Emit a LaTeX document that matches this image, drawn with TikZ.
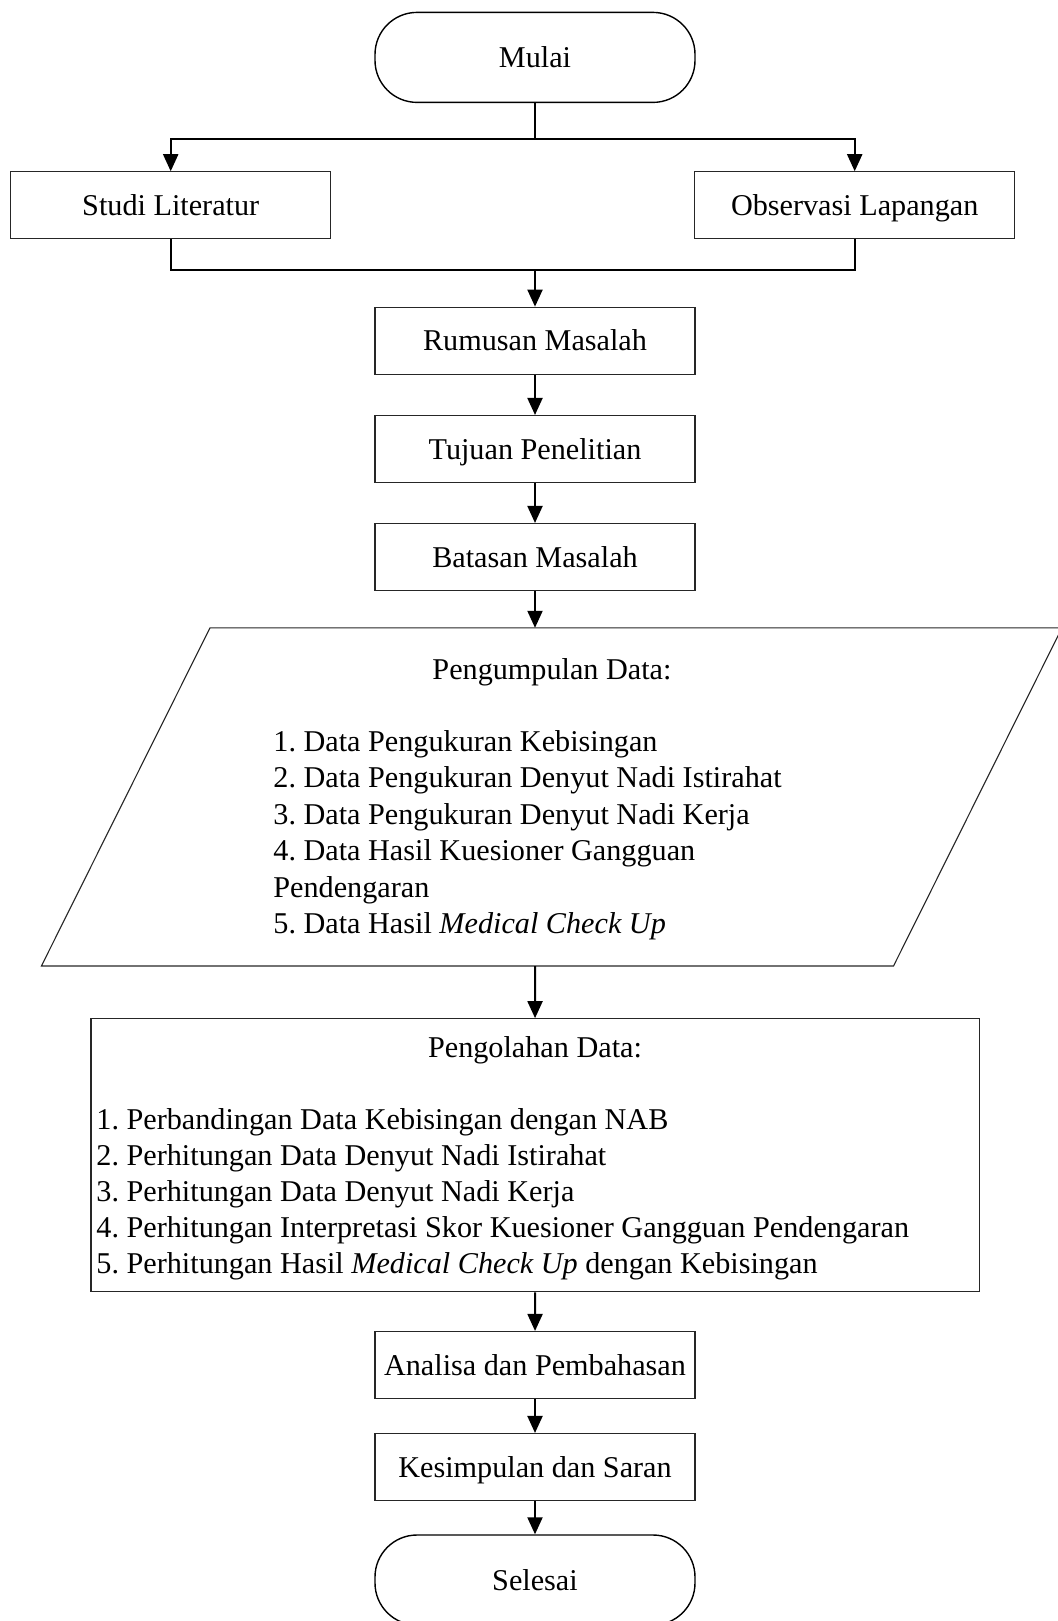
\documentclass[tikz,border=0pt]{standalone}
\usepackage{fontspec}
\setmainfont{Liberation Serif}
\usetikzlibrary{arrows.meta,calc}
\begin{document}
\frenchspacing
\begin{tikzpicture}[x=0.5pt,y=-0.5pt,
  every node/.style={font=\fontsize{15.1}{18.2}\selectfont},
  procbox/.style={draw=black!85,line width=0.55pt,minimum width=160pt,minimum height=33.5pt,inner sep=0pt,text height=11.8pt,text depth=1.8pt},
  termbox/.style={draw=black,line width=0.7pt,rounded corners=21pt,minimum width=160pt,minimum height=45pt,inner sep=0pt,text height=11.8pt,text depth=1.8pt},
  txt/.style={inner sep=0pt,anchor=base west},
  ttl/.style={inner sep=0pt,anchor=base},
  conn/.style={line width=1pt},
  arr/.style={line width=1pt,-{Triangle[length=8.5pt,width=7.5pt]}}]
\useasboundingbox (0,0) rectangle (1057,1621);

\node[termbox] (mulai) at (535,57.4) {Mulai};
\node[procbox] (studi) at (170.7,205.3) {Studi Literatur};
\node[procbox] (obs) at (854.7,205.3) {Observasi Lapangan};
\node[procbox] (rumusan) at (535,340.7) {Rumusan Masalah};
\node[procbox] (tujuan) at (535,449) {Tujuan Penelitian};
\node[procbox] (batasan) at (535,557) {Batasan Masalah};

% parallelogram
\coordinate (pTL) at (210,627.8);
\coordinate (pTR) at (1062,627.8);
\coordinate (pBR) at (893.5,966);
\coordinate (pBL) at (41.4,966);
\draw[draw=black!85,line width=0.55pt] (pTL) -- (pTR) -- (pBR) -- (pBL) -- cycle;
\coordinate (pin) at (535,627.8);
\coordinate (pout) at (535,966);
\node[ttl] (kumpt) at (552,679) {Pengumpulan Data:};
\node[txt] (k1) at (273,751.5) {1. Data Pengukuran Kebisingan};
\node[txt] (k2) at (273,787.9) {2. Data Pengukuran Denyut Nadi Istirahat};
\node[txt] (k3) at (273,824.3) {3. Data Pengukuran Denyut Nadi Kerja};
\node[txt] (k4) at (273,860.7) {4. Data Hasil Kuesioner Gangguan};
\node[txt] (k4b) at (273,897.1) {Pendengaran};
\node[txt] (k5) at (273,933.5) {5. Data Hasil \textit{Medical Check Up}};

% pengolahan
\node[draw=black!85,line width=0.55pt,minimum width=444.2pt,minimum height=136.55pt,inner sep=0pt] (olah) at (535.2,1155.25) {};
\node[ttl] (olaht) at (535,1057.6) {Pengolahan Data:};
\node[txt] (o1) at (96,1129) {1. Perbandingan Data Kebisingan dengan NAB};
\node[txt] (o2) at (96,1165.2) {2. Perhitungan Data Denyut Nadi Istirahat};
\node[txt] (o3) at (96,1201.4) {3. Perhitungan Data Denyut Nadi Kerja};
\node[txt] (o4) at (96,1237.6) {4. Perhitungan Interpretasi Skor Kuesioner Gangguan Pendengaran};
\node[txt] (o5) at (96,1273.8) {5. Perhitungan Hasil \textit{Medical Check Up} dengan Kebisingan};

\node[procbox] (analisa) at (535,1365) {Analisa dan Pembahasan};
\node[procbox] (simpul) at (535,1467) {Kesimpulan dan Saran};
\node[termbox] (selesai) at (535,1580) {Selesai};

% connectors
\coordinate (split) at (535,139);
\coordinate (join) at (535,270);
\draw[conn] (mulai) -- (split);
\draw[arr] (split) -| (studi);
\draw[arr] (split) -| (obs);
\draw[conn] (studi) |- (join);
\draw[conn] (obs) |- (join);
\draw[arr] (join) -- (rumusan);
\draw[arr] (rumusan) -- (tujuan);
\draw[arr] (tujuan) -- (batasan);
\draw[arr] (batasan) -- (pin);
\draw[arr] (pout) -- (olah);
\draw[arr] (olah) -- (analisa);
\draw[arr] (analisa) -- (simpul);
\draw[arr] (simpul) -- (selesai);
\end{tikzpicture}
\end{document}
